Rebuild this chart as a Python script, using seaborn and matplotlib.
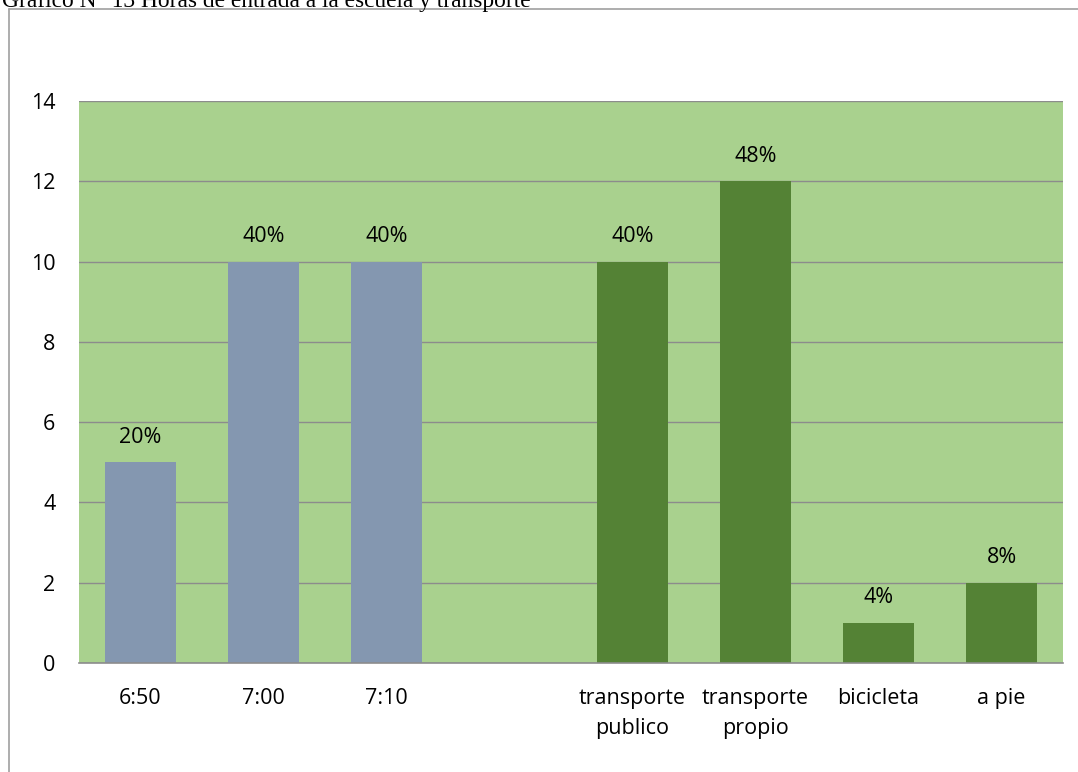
import matplotlib
matplotlib.use("Agg")
import matplotlib.pyplot as plt
import seaborn as sns
import pandas as pd
import numpy as np
from matplotlib.lines import Line2D

categories = ["6:50", "7:00", "7:10", " ", "transporte\npublico", "transporte\npropio", "bicicleta", "a pie"]
values = [5, 10, 10, np.nan, 10, 12, 1, 2]
labels = ["20%", "40%", "40%", "", "40%", "48%", "4%", "8%"]
groups = ["hora", "hora", "hora", "vacio", "transp", "transp", "transp", "transp"]
title = "Gráfico N° 13 Horas de entrada a la escuela y transporte"

sns.set_theme(style="white")
plt.rcParams['font.family'] = ['Open Sans', 'DejaVu Sans']

df = pd.DataFrame({"cat": categories, "val": values, "grp": groups})
palette = {"hora": "#8497B0", "vacio": "#A9D18E", "transp": "#548235"}

fig = plt.figure(figsize=(10.78, 7.72), dpi=100)
ax = fig.add_axes([79/1078, 1 - 663/772, (1063 - 79)/1078, (663 - 101)/772])
ax.set_facecolor("#A9D18E")

sns.barplot(data=df, x="cat", y="val", hue="grp", palette=palette, dodge=False,
            width=0.57, ax=ax, legend=False, saturation=1, order=categories,
            linewidth=0, edgecolor="none")

ax.set_ylim(0, 14)
ax.set_xlim(-0.5, len(categories) - 0.5)
ax.set_yticks(range(0, 15, 2))
ax.yaxis.grid(True, color="#8c8c8c", linewidth=1)
ax.set_axisbelow(True)
for s in ["top", "right", "left"]:
    ax.spines[s].set_visible(False)
ax.spines["bottom"].set_color("#8c8c8c")
ax.spines["bottom"].set_linewidth(1.2)
ax.tick_params(axis="both", length=0, labelsize=15.5, colors="black")
ax.tick_params(axis="x", pad=18)
ax.tick_params(axis="y", pad=17)
ax.set_xlabel("")
ax.set_ylabel("")
ax.set_xticks(range(len(categories)))
ax.set_xticklabels(categories, linespacing=1.55)

for i, (v, lab) in enumerate(zip(values, labels)):
    if lab and not np.isnan(v):
        ax.annotate(lab, (i, v), xytext=(0, 18), textcoords="offset points",
                    ha="center", va="center", fontsize=15.5, color="black")

# outer chart border (left and top)
fig.add_artist(Line2D([9/1078, 9/1078], [0, 1 - 9/772], transform=fig.transFigure, color="#a0a0a0", lw=1.2))
fig.add_artist(Line2D([9/1078, 1], [1 - 9/772, 1 - 9/772], transform=fig.transFigure, color="#a0a0a0", lw=1.2))

fig.text(2/1078, 1 - 7/772, title, family="Liberation Serif", fontsize=16.8,
         ha="left", va="baseline", color="black")

fig.savefig("out.png", dpi=100)
